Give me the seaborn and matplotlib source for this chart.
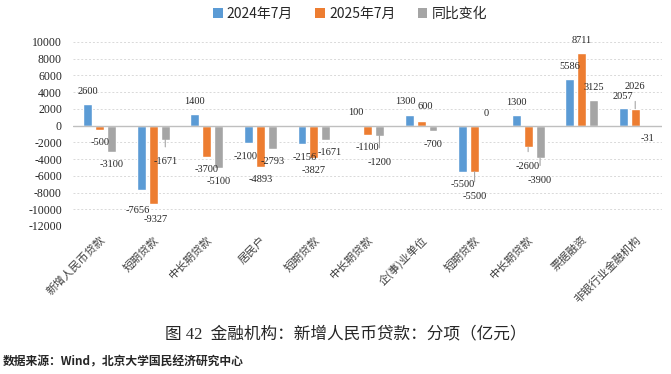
import pandas as pd
import numpy as np
import matplotlib
matplotlib.use("Agg")
import matplotlib.pyplot as plt
import seaborn as sns

# data (亿元)
categories = ['新增人民币贷款', '短期贷款', '中长期贷款', '居民户', '短期贷款', '中长期贷款',
              '企(事)业单位', '短期贷款', '中长期贷款', '票据融资', '非银行业金融机构']
series_names = ['2024年7月', '2025年7月', '同比变化']
values_2024 = [2600, -7656, 1400, -2100, -2156, 100, 1300, -5500, 1300, 5586, 2057]
values_2025 = [-500, -9327, -3700, -4893, -3827, -1100, 600, -5500, -2600, 8711, 2026]
values_change = [-3100, -1671, -5100, -2793, -1671, -1200, -700, 0, -3900, 3125, -31]
colors = ['#5B9BD5', '#ED7D31', '#A5A5A5']

sns.set_theme(style="white")
plt.rcParams['font.family'] = ['Liberation Serif', 'Noto Sans CJK SC', 'DejaVu Sans']
plt.rcParams['axes.unicode_minus'] = False

rows = []
for name, vals in zip(series_names, [values_2024, values_2025, values_change]):
    for i, v in enumerate(vals):
        rows.append({'pos': i, 'series': name, 'value': v})
df = pd.DataFrame(rows)

fig = plt.figure(figsize=(6.71, 3.74), dpi=100)
ax = fig.add_axes([73 / 671, 1 - 226 / 374, 589 / 671, 184 / 374])

sns.barplot(data=df, x='pos', y='value', hue='series', hue_order=series_names,
            palette=colors, width=0.67, gap=0.25, ax=ax, legend=False,
            saturation=1, errorbar=None)

ax.set_ylim(-12000, 10000)
ax.set_xlim(-0.5, len(categories) - 0.5)
ax.set_yticks(np.arange(-12000, 10001, 2000))
ax.yaxis.grid(True, color='#d9d9d9', linestyle=(0, (2, 2)), linewidth=0.7)
ax.set_axisbelow(True)
for s in ax.spines.values():
    s.set_visible(False)
ax.axhline(0, color='#bfbfbf', linewidth=1.0, zorder=1.5)
ax.set_xlabel('')
ax.set_ylabel('')
ax.tick_params(axis='y', length=0, pad=8, labelsize=8.5)
ax.tick_params(axis='x', length=0, pad=6)
ax.set_xticks(range(len(categories)))
ax.set_xticklabels(categories, rotation=45, ha='right', rotation_mode='anchor',
                   fontsize=8, family=['Noto Sans CJK SC'], color='#404040')
for lab in ax.get_yticklabels():
    lab.set_family(['Liberation Serif'])

# label offsets in pixels (dx, dy); leader lines where Excel drew them
special = {
    (1, 0): (-4, 21, False), (1, 1): (2, 16, False), (1, 2): (0, 22, True),
    (3, 0): (-3, 13, False), (4, 0): (3, 14, False), (4, 2): (4, 13, False),
    (5, 2): (0, 27, True), (6, 0): (-4, -13, False), (6, 1): (4, -14, False),
    (7, 1): (0, 25, True),
    (8, 1): (0, 19, True), (8, 2): (0, 22, True), (10, 1): (0, -22, True),
}
px = 0.72  # points per pixel at dpi 100
for si, cont in enumerate(ax.containers):
    for ci, bar in enumerate(cont):
        v = [values_2024, values_2025, values_change][si][ci]
        xc = bar.get_x() + bar.get_width() / 2
        dx, dy, lead = special.get((ci, si), (0, -12 if v >= 0 else 13, False))
        kw = {}
        if lead:
            kw['arrowprops'] = dict(arrowstyle='-', color='#a6a6a6', lw=0.8,
                                    shrinkA=5, shrinkB=0)
        ax.annotate(f'{v}', xy=(xc, v), xytext=(dx * px, -dy * px),
                    textcoords='offset points', ha='center', va='center',
                    fontsize=7.5, family=['Liberation Serif'], color='#262626', **kw)

# legend
from matplotlib.patches import Patch
handles = [Patch(facecolor=c, edgecolor='none') for c in colors]
fig.legend(handles, series_names, loc='center', bbox_to_anchor=(350 / 671, 1 - 14 / 374),
           ncol=3, frameon=False, handlelength=0.7, handleheight=0.7, handletextpad=0.3,
           columnspacing=1.6, prop={'family': ['Noto Sans CJK SC'], 'size': 10})

fig.text(346 / 671, 1 - 334 / 374, '图 42  金融机构：新增人民币贷款：分项（亿元）',
         ha='center', va='center', fontsize=12, family=['Liberation Serif', 'Noto Sans CJK SC'])
fig.text(3 / 671, 1 - 362 / 374, '数据来源：Wind，北京大学国民经济研究中心',
         ha='left', va='center', fontsize=8.5, fontweight='bold',
         family=['Noto Sans CJK SC'])

fig.savefig('out.png', dpi=100, facecolor='white')
